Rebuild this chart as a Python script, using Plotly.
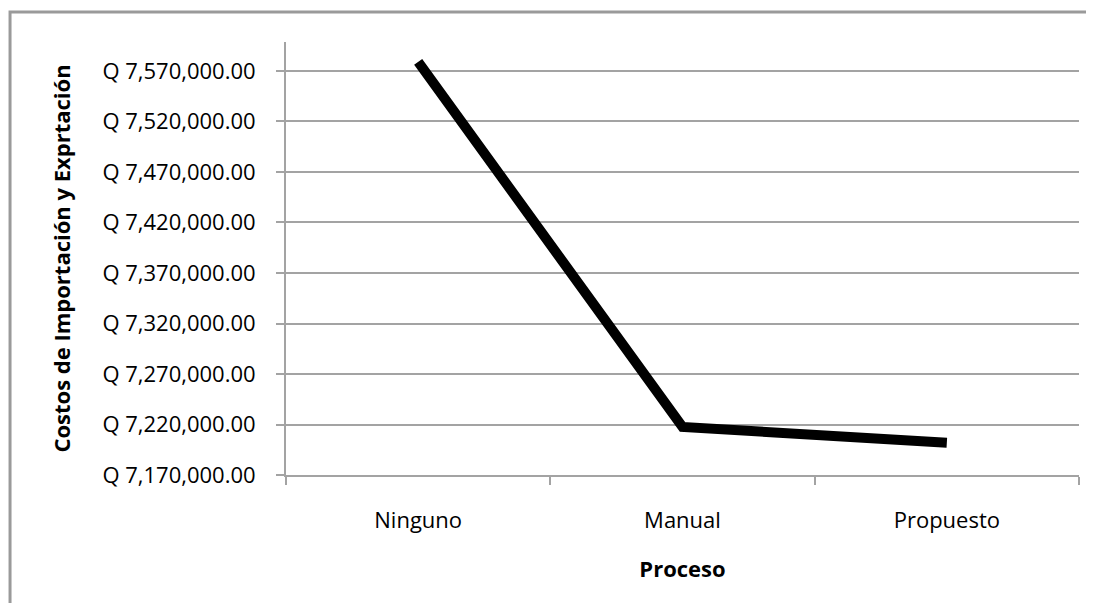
import plotly.graph_objects as go

# Data
procesos = ['Ninguno', 'Manual', 'Propuesto']
costos = [7579000, 7217500, 7202000]
tick_vals = [7170000 + 50000 * i for i in range(9)]
tick_text = [f'Q {v:,.2f}' for v in tick_vals]

FONT = 'Open Sans, sans-serif'
GRID = '#a3a3a3'

fig = go.Figure()

fig.add_trace(go.Scatter(
    x=procesos,
    y=costos,
    mode='lines',
    line=dict(color='black', width=10),
    showlegend=False
))

# page body has an 8px margin, so the figure is a bit smaller than the window
fig.update_layout(
    width=1086,
    height=595,
    margin=dict(l=278, r=15, t=34, b=128),
    plot_bgcolor='white',
    paper_bgcolor='white',
    font=dict(family=FONT, size=22, color='black'),
    xaxis=dict(
        type='category',
        range=[-0.5, 2.5],
        tickson='boundaries',
        ticks='outside',
        ticklen=8,
        tickwidth=2,
        tickcolor=GRID,
        showline=True,
        linecolor=GRID,
        linewidth=2,
        showgrid=False,
        ticklabelstandoff=25,
        tickfont=dict(size=22),
        title=dict(text='<b>Proceso</b>', font=dict(size=22), standoff=28)
    ),
    yaxis=dict(
        range=[7170000, 7598700],
        tickmode='array',
        tickvals=tick_vals,
        ticktext=tick_text,
        ticks='outside',
        ticklen=8,
        tickwidth=2,
        tickcolor=GRID,
        showline=True,
        linecolor=GRID,
        linewidth=2,
        gridcolor=GRID,
        gridwidth=2,
        zeroline=False,
        ticklabelstandoff=16,
        tickfont=dict(size=22),
        title=dict(text='<b>Costos de Importación y Exprtación</b>', font=dict(size=22), standoff=26)
    ),
    shapes=[dict(
        type='rect', xref='paper', yref='paper',
        x0=-0.348, x1=1.2, y0=-0.5, y1=1.069,
        line=dict(color='#9a9a9a', width=3),
        layer='below'
    )]
)

fig.write_html('out.html')
